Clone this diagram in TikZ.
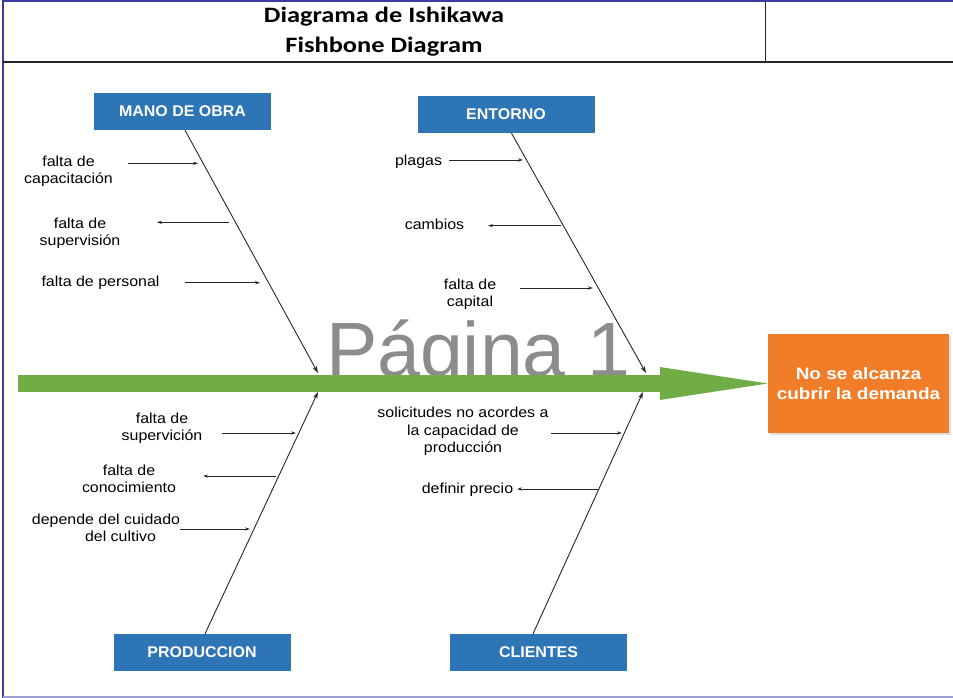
\documentclass[tikz,border=0pt]{standalone}
\usepackage{fontspec}
\setmainfont{Liberation Sans}
\newfontfamily\lblfont[FakeStretch=1.1]{Liberation Sans}
\newfontfamily\boxfont[FakeStretch=1.03]{Liberation Sans}
\newfontfamily\effont[FakeStretch=1.15]{Liberation Sans}
\newfontfamily\ttlfont[FakeStretch=1.2]{Carlito}
\usetikzlibrary{arrows.meta,shadows}
\definecolor{boxblue}{RGB}{46,117,182}
\definecolor{effectorange}{RGB}{242,125,40}
\definecolor{spinegreen}{RGB}{112,173,71}
\definecolor{framenavy}{RGB}{60,60,160}
\definecolor{wmgray}{RGB}{140,140,140}
\begin{document}
\begin{tikzpicture}[x=1pt,y=-1pt,
  catbox/.style={fill=boxblue, text=white, font=\boxfont\bfseries\fontsize{15.5}{18}\selectfont, minimum width=177pt, minimum height=37pt, inner sep=0pt},
  effectbox/.style={fill=effectorange, text=white, font=\effont\bfseries\fontsize{16.5}{20}\selectfont, align=center, minimum width=181pt, minimum height=99pt, inner sep=0pt, drop shadow={opacity=0.25,shadow xshift=1.5pt,shadow yshift=-2pt}},
  causetext/.style={font=\lblfont\fontsize{14.5}{17.5}\selectfont, align=center, inner sep=0pt, text=black},
  bone/.style={draw=black!85, line width=0.9pt, -{Stealth[length=7pt,width=4.5pt]}},
  twig/.style={draw=black!85, line width=0.8pt, -{Stealth[length=5pt,width=3.2pt]}},
  spine/.style={draw=spinegreen, line width=17pt, -{Triangle[length=108pt,width=33pt,line width=0pt]}},
  titletext/.style={font=\ttlfont\bfseries\fontsize{22}{30}\selectfont, align=center, inner sep=0pt},
]
\useasboundingbox (0,0) rectangle (953,698);
% frame
\draw[framenavy, line width=2pt] (3,698) -- (3,1.5) -- (953,1.5);
\draw[framenavy!50, line width=1.5pt] (3,697) -- (953,697);
\draw[black!85, line width=2pt] (3,62) -- (953,62);
\draw[black!85, line width=1.5pt] (765.5,2) -- (765.5,62);
\node[titletext] (title) at (384,32) {Diagrama de Ishikawa\\Fishbone Diagram};
% watermark
\node[font=\fontsize{77}{80}\selectfont, text=wmgray, anchor=base, inner sep=0pt] (wm) at (478,376) {Página 1};
% effect and spine
\node[effectbox] (effect) at (858.5,383.5) {No se alcanza\\cubrir la demanda};
\coordinate (tail) at (18,383.5);
\draw[spine] (tail) -- (effect.west);
% categories
\node[catbox] (mano) at (182.5,111.5) {MANO DE OBRA};
\node[catbox] (entorno) at (506,114.5) {ENTORNO};
\node[catbox] (prod) at (202,652.5) {PRODUCCION};
\node[catbox] (cli) at (538.5,652.5) {CLIENTES};
% bones
\coordinate (mj) at (318,373);
\coordinate (ej) at (646,373);
\coordinate (pj) at (318,392);
\coordinate (cj) at (643,392);
\draw[bone] ([xshift=2.5pt]mano.south) -- (mj);
\draw[bone] ([xshift=5.5pt]entorno.south) -- (ej);
\draw[bone] ([xshift=3pt]prod.north) -- (pj);
\draw[bone] ([xshift=-5.5pt]cli.north) -- (cj);
% causes: mano de obra
\node[causetext] (m1) at (68.5,171.5) {falta de\\capacitación};
\node[causetext] (m2) at (80,233.5) {falta de\\supervisión};
\node[causetext] (m3) at (100.5,283) {falta de personal};
\coordinate (m1s) at (128,163.3); \coordinate (m1e) at (198,163.3);
\coordinate (m2s) at (229,222.3); \coordinate (m2e) at (157,222.3);
\coordinate (m3s) at (185,282.7); \coordinate (m3e) at (260,282.7);
\draw[twig] (m1s) -- (m1e);
\draw[twig] (m2s) -- (m2e);
\draw[twig] (m3s) -- (m3e);
% causes: entorno
\node[causetext] (e1) at (418.5,162) {plagas};
\node[causetext] (e2) at (434.5,224) {cambios};
\node[causetext] (e3) at (470,294) {falta de\\capital};
\coordinate (e1s) at (449,160); \coordinate (e1e) at (523,160);
\coordinate (e2s) at (561,225.7); \coordinate (e2e) at (488,225.7);
\coordinate (e3s) at (520,288); \coordinate (e3e) at (593,288);
\draw[twig] (e1s) -- (e1e);
\draw[twig] (e2s) -- (e2e);
\draw[twig] (e3s) -- (e3e);
% causes: produccion
\node[causetext] (p1) at (162,428) {falta de\\supervición};
\node[causetext] (p2) at (129,479) {falta de\\conocimiento};
\node[causetext] (p3) at (106,528) {depende del cuidado\\\hspace*{29pt}del cultivo};
\coordinate (p1s) at (222,433); \coordinate (p1e) at (296,433);
\coordinate (p2s) at (276,476); \coordinate (p2e) at (203,476);
\coordinate (p3s) at (180,529); \coordinate (p3e) at (250,529);
\draw[twig] (p1s) -- (p1e);
\draw[twig] (p2s) -- (p2e);
\draw[twig] (p3s) -- (p3e);
% causes: clientes
\node[causetext] (c1) at (463,431.5) {solicitudes no acordes a\\la capacidad de\\producción};
\node[causetext] (c2) at (467.5,490) {definir precio};
\coordinate (c1s) at (551,433); \coordinate (c1e) at (622,433);
\coordinate (c2s) at (598,489); \coordinate (c2e) at (517,489);
\draw[twig] (c1s) -- (c1e);
\draw[twig] (c2s) -- (c2e);
\end{tikzpicture}
\end{document}
